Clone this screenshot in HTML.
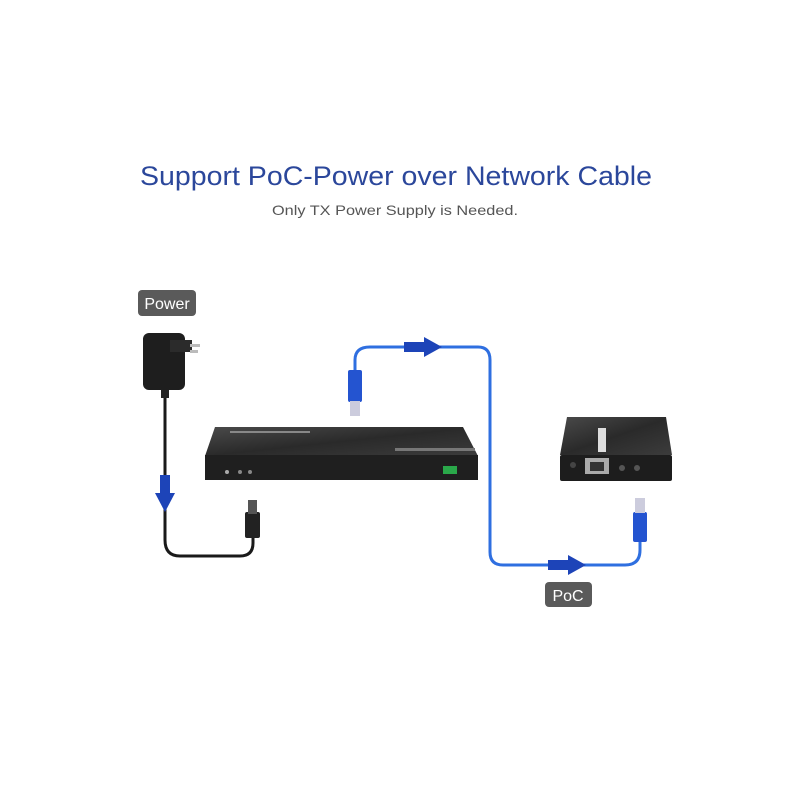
<!DOCTYPE html>
<html><head><meta charset="utf-8"><style>
html,body{margin:0;padding:0;background:#fff;width:800px;height:800px;overflow:hidden}
</style></head><body>
<svg width="800" height="800" viewBox="0 0 800 800" xmlns="http://www.w3.org/2000/svg">
<defs>
<linearGradient id="tg" x1="0" y1="0" x2="1" y2="1"><stop offset="0" stop-color="#4a4a4a"/><stop offset="0.5" stop-color="#2a2a2a"/><stop offset="1" stop-color="#3c3c3c"/></linearGradient>
</defs>
<text x="396" y="185" text-anchor="middle" font-family="Liberation Sans, sans-serif" font-size="27" fill="#2b479b" textLength="512" lengthAdjust="spacingAndGlyphs">Support PoC-Power over Network Cable</text>
<text x="395" y="215" text-anchor="middle" font-family="Liberation Sans, sans-serif" font-size="14" fill="#555" textLength="246" lengthAdjust="spacingAndGlyphs">Only TX Power Supply is Needed.</text>

<!-- Power label -->
<rect x="138" y="290" width="58" height="26" rx="4" fill="#5a5a5a"/>
<text x="167" y="309" text-anchor="middle" font-family="Liberation Sans, sans-serif" font-size="16" fill="#fff">Power</text>

<!-- adapter -->
<rect x="143" y="333" width="42" height="57" rx="6" fill="#1e1e1e"/>
<rect x="170" y="340" width="22" height="12" fill="#2b2b2b"/>
<rect x="190" y="344" width="10" height="3" fill="#bbb"/>
<rect x="190" y="350" width="8" height="3" fill="#bbb"/>
<rect x="161" y="390" width="8" height="8" fill="#222"/>
<!-- power cable -->
<path d="M165 398 L165 540 Q165 556 180 556 L240 556 Q253 556 253 543 L253 535" fill="none" stroke="#1a1a1a" stroke-width="3"/>
<rect x="245" y="512" width="15" height="26" rx="2" fill="#222"/>
<rect x="248" y="500" width="9" height="14" fill="#555"/>
<!-- down arrow -->
<rect x="160" y="475" width="10" height="22" fill="#1d44b8"/>
<polygon points="155,493 175,493 165,512" fill="#1d44b8"/>

<!-- transmitter -->
<polygon points="215,427 463,427 478,456 205,456" fill="url(#tg)"/>
<rect x="205" y="455" width="273" height="25" fill="#1f1f1f"/>
<rect x="230" y="431" width="80" height="2" fill="#888"/>
<rect x="395" y="448" width="80" height="3" fill="#777"/>
<rect x="443" y="466" width="14" height="8" fill="#2aa84a"/>
<circle cx="227" cy="472" r="2" fill="#aaa"/>
<circle cx="240" cy="472" r="2" fill="#888"/>
<circle cx="250" cy="472" r="2" fill="#888"/>

<!-- blue network cable -->
<path d="M355 372 L355 360 Q355 347 370 347 L478 347 Q490 347 490 360 L490 552 Q490 565 503 565 L625 565 Q640 565 640 550 L640 540" fill="none" stroke="#2f6fe0" stroke-width="3"/>
<rect x="348" y="370" width="14" height="32" rx="2" fill="#2454d0"/>
<rect x="350" y="401" width="10" height="15" fill="#ccd"/>
<rect x="633" y="512" width="14" height="30" rx="2" fill="#2454d0"/>
<rect x="635" y="498" width="10" height="15" fill="#ccd"/>
<!-- arrows -->
<rect x="404" y="342" width="22" height="10" fill="#1d44b8"/>
<polygon points="424,337 424,357 442,347" fill="#1d44b8"/>
<rect x="548" y="560" width="22" height="10" fill="#1d44b8"/>
<polygon points="568,555 568,575 586,565" fill="#1d44b8"/>

<!-- receiver -->
<polygon points="567,417 666,417 672,455 560,455" fill="url(#tg)"/>
<rect x="560" y="455" width="112" height="26" rx="2" fill="#1d1d1d"/>
<rect x="585" y="458" width="24" height="16" fill="#aaa"/>
<rect x="590" y="462" width="14" height="9" fill="#333"/>
<circle cx="573" cy="465" r="3" fill="#444"/>
<circle cx="622" cy="468" r="3" fill="#555"/>
<circle cx="637" cy="468" r="3" fill="#555"/>
<rect x="598" y="428" width="8" height="24" fill="#ddd"/>

<!-- PoC label -->
<rect x="545" y="582" width="47" height="25" rx="4" fill="#5a5a5a"/>
<text x="568" y="601" text-anchor="middle" font-family="Liberation Sans, sans-serif" font-size="16" fill="#fff">PoC</text>
</svg>
</body></html>
